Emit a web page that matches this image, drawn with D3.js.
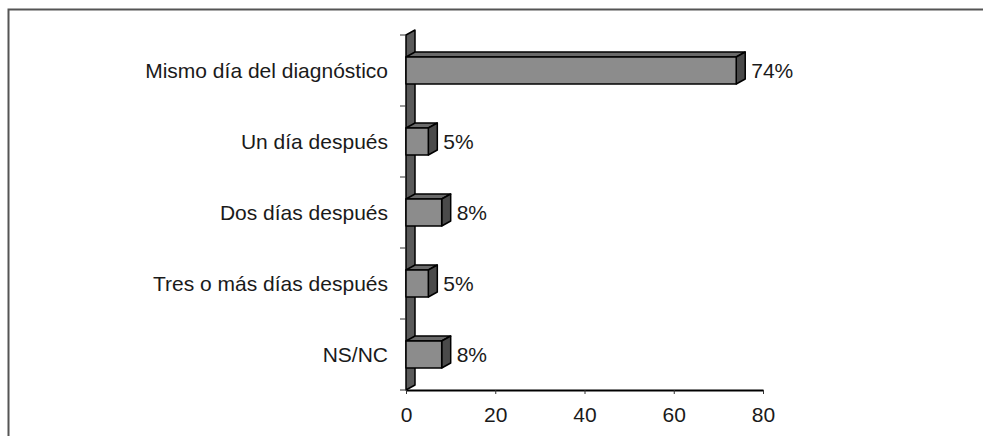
<!DOCTYPE html>
<html>
<head>
<meta charset="utf-8">
<script src="https://cdn.jsdelivr.net/npm/d3@7"></script>
<style>
  html, body { margin: 0; padding: 0; background: #fff; }
  svg { display: block; }
  text { font-family: Arial, "Liberation Sans", sans-serif; fill: #1a1a1a; }
</style>
</head>
<body>
<svg id="chart" width="983" height="436"></svg>
<script>
// Momento en que se comunicó el diagnóstico (% de respuestas)
const categories = [
  "Mismo día del diagnóstico",
  "Un día después",
  "Dos días después",
  "Tres o más días después",
  "NS/NC"
];
const values = [74, 5, 8, 5, 8];
const valueLabels = ["74%", "5%", "8%", "5%", "8%"];
const xTicks = [0, 20, 40, 60, 80];

const W = 983, H = 436;
const plot = { left: 406, right: 763, top: 35, bottom: 390 };
const depth = { dx: 9, dy: 5 };   // 3D offset of the extruded faces
const fontSize = 21;

const svg = d3.select("#chart");

// outer frame (open on the right and bottom)
svg.append("path")
  .attr("d", `M8.5,${H} L8.5,9.5 L${W},9.5`)
  .attr("fill", "none")
  .attr("stroke", "#555")
  .attr("stroke-width", 2);

const x = d3.scaleLinear().domain([0, 80]).range([plot.left, plot.right]);
const y = d3.scaleBand().domain(categories).range([plot.top, plot.bottom]).padding(0);

// side wall behind the bars
const x0 = x(0);
svg.append("polygon")
  .attr("points", [
    [x0, plot.bottom], [x0, plot.top],
    [x0 + depth.dx, plot.top - depth.dy], [x0 + depth.dx, plot.bottom - depth.dy]
  ].map(p => p.join(",")).join(" "))
  .attr("fill", "#5a5a5a")
  .attr("stroke", "#000")
  .attr("stroke-width", 1.5)
  .attr("stroke-linejoin", "round");

// category ticks on the wall
const catTicks = d3.range(categories.length + 1).map(i => plot.top + i * y.step());
svg.append("g").selectAll("line").data(catTicks).join("line")
  .attr("x1", x0 - 6).attr("x2", x0)
  .attr("y1", d => d).attr("y2", d => d)
  .attr("stroke", "#333").attr("stroke-width", 1);

// value axis (floor line)
const xAxis = svg.append("g").attr("transform", `translate(0,${plot.bottom})`)
  .call(d3.axisBottom(x).tickValues(xTicks).tickSize(4).tickPadding(13).tickSizeOuter(0));
xAxis.select(".domain").attr("stroke", "#000").attr("stroke-width", 2);
xAxis.selectAll(".tick line").attr("stroke", "#333");
xAxis.selectAll(".tick text")
  .attr("font-size", fontSize).attr("fill", "#1a1a1a")
  .attr("font-family", "Arial, 'Liberation Sans', sans-serif");

// 3D bars
const barFrac = 0.38;
const bars = svg.append("g").selectAll("g").data(categories).join("g");

bars.each(function (c, i) {
  const g = d3.select(this);
  const cy = y(c) + y.bandwidth() / 2;
  const h = y.bandwidth() * barFrac;
  const top = cy - h / 2, bot = cy + h / 2;
  const xa = x(0), xb = x(values[i]);
  const pts = a => a.map(p => p.join(",")).join(" ");
  // top face
  g.append("polygon")
    .attr("points", pts([[xa, top], [xa + depth.dx, top - depth.dy], [xb + depth.dx, top - depth.dy], [xb, top]]))
    .attr("fill", "#6a6a6a");
  // right face
  g.append("polygon")
    .attr("points", pts([[xb, top], [xb + depth.dx, top - depth.dy], [xb + depth.dx, bot - depth.dy], [xb, bot]]))
    .attr("fill", "#4a4a4a");
  // front face
  g.append("rect")
    .attr("x", xa).attr("y", top)
    .attr("width", xb - xa).attr("height", h)
    .attr("fill", "#8c8c8c");
  g.selectAll("polygon, rect")
    .attr("stroke", "#000").attr("stroke-width", 1.5).attr("stroke-linejoin", "round");

  // value label
  g.append("text")
    .attr("x", xb + depth.dx + 6)
    .attr("y", cy)
    .attr("dy", "0.35em")
    .attr("font-size", fontSize)
    .text(valueLabels[i]);

  // category label
  g.append("text")
    .attr("x", 388)
    .attr("y", cy)
    .attr("dy", "0.35em")
    .attr("text-anchor", "end")
    .attr("font-size", fontSize)
    .text(c);
});
</script>
</body>
</html>
